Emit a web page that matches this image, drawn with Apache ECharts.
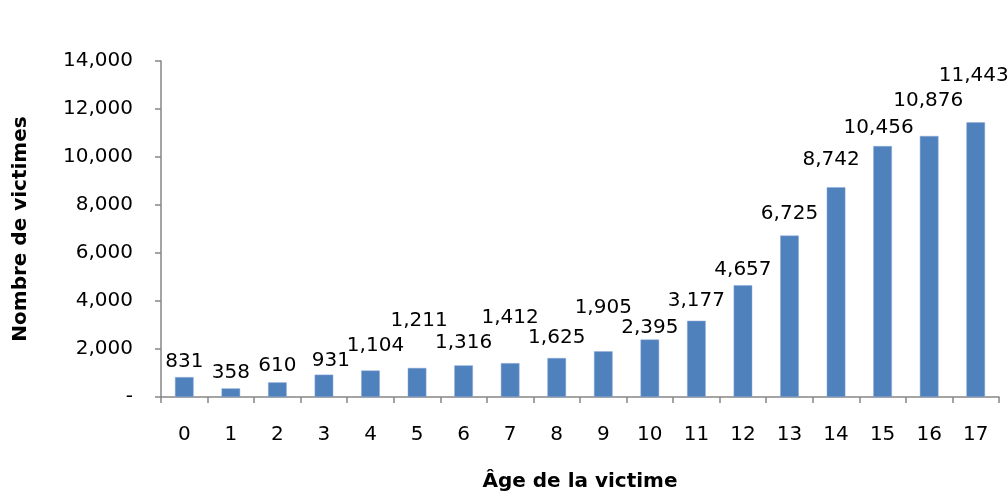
<!DOCTYPE html>
<html>
<head>
<meta charset="utf-8">
<script src="https://cdn.jsdelivr.net/npm/echarts@6/dist/echarts.min.js"></script>
<style>
html,body{margin:0;padding:0;background:#fff;}
#c{width:1008px;height:497px;}
</style>
</head>
<body>
<div id="c"></div>
<script>
const categories = ['0','1','2','3','4','5','6','7','8','9','10','11','12','13','14','15','16','17'];
const victims = [831,358,610,931,1104,1211,1316,1412,1625,1905,2395,3177,4657,6725,8742,10456,10876,11443];
const yTicks = [0,2000,4000,6000,8000,10000,12000,14000];

// label placement tweaks (style only): [dx, extra lift px]
const labelShift = [[0,3],[0,4],[0,5],[7,2],[5,13],[2,35],[0,11],[0,33],[0,8],[0,31],[0,0],[0,8],[0,3],[0,10],[-5,15],[-4,6],[-1,23],[-2,35]];

const fmt = v => v === 0 ? '-' : v.toLocaleString('en-US');
const FONT = 'DejaVu Sans';

const chart = echarts.init(document.getElementById('c'));
chart.setOption({
  animation:false,
  grid:{left:161,right:9,top:61,bottom:99,containLabel:false},
  xAxis:{
    type:'category',
    data:categories,
    name:'Âge de la victime',
    nameLocation:'middle',
    nameGap:75,
    nameTextStyle:{fontFamily:FONT,fontWeight:'bold',fontSize:20,color:'#000'},
    axisLine:{lineStyle:{color:'#868686',width:1.5}},
    axisTick:{show:true,length:6,alignWithLabel:false,lineStyle:{color:'#868686',width:1.5}},
    axisLabel:{fontFamily:FONT,fontSize:20,color:'#000',margin:28}
  },
  yAxis:{
    type:'value',
    min:yTicks[0],
    max:yTicks[yTicks.length-1],
    interval:2000,
    name:'Nombre de victimes',
    nameLocation:'middle',
    nameGap:130,
    nameTextStyle:{fontFamily:FONT,fontWeight:'bold',fontSize:20,color:'#000'},
    axisLine:{show:true,lineStyle:{color:'#868686',width:1.5}},
    axisTick:{show:true,length:6,lineStyle:{color:'#868686',width:1.5}},
    splitLine:{show:false},
    axisLabel:{fontFamily:FONT,fontSize:20,color:'#000',margin:28,formatter:fmt}
  },
  series:[{
    type:'bar',
    barWidth:'40%',
    itemStyle:{color:'#4F81BD',borderColor:'#8EAADB',borderWidth:0.5},
    data:victims.map((v,i)=>({
      value:v,
      label:{show:true,position:'top',distance:2,offset:[labelShift[i][0],-labelShift[i][1]],
        fontFamily:FONT,fontSize:20,color:'#000',formatter:p=>fmt(p.value)}
    }))
  }]
});
</script>
</body>
</html>
